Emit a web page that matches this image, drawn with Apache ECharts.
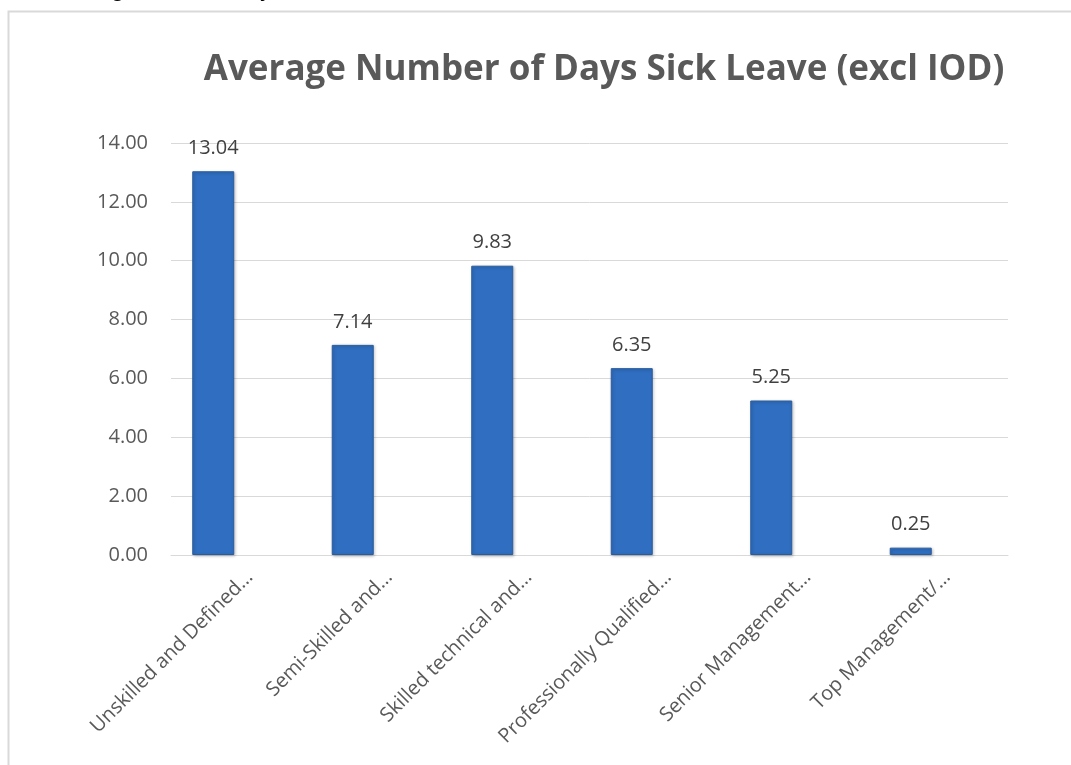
<!DOCTYPE html>
<html>
<head>
<meta charset="utf-8">
<title>Average Number of Days Sick Leave (excl IOD)</title>
<script src="https://cdn.jsdelivr.net/npm/echarts@6/dist/echarts.min.js"></script>
<style>
  html, body { margin: 0; padding: 0; background: #ffffff; }
  #chart { width: 1071px; height: 765px; }
</style>
</head>
<body>
<div id="chart"></div>
<script>
// Occupational levels and their average sick-leave days (excluding injury on duty)
const categories = [
  'Unskilled and Defined…',
  'Semi-Skilled and…',
  'Skilled technical and…',
  'Professionally Qualified…',
  'Senior Management…',
  'Top Management/…'
];
const sickDays = [13.04, 7.14, 9.83, 6.35, 5.25, 0.25];
// Empty companion series: the column slot next to each bar stays blank
const companion = ['-', '-', '-', '-', '-', '-'];
const yTicks = { min: 0, max: 14, step: 2 };

const headingText = 'Average Number of Days Sick Leave (excl IOD)';
const chartTitle = 'Average Number of Days Sick Leave (excl IOD)';

const FONT = '"Open Sans", "Liberation Sans", sans-serif';
const chart = echarts.init(document.getElementById('chart'), null, { renderer: 'canvas' });

// plot rectangle; category labels sit a little right of each band centre
const plot = { left: 171, right: 63, top: 143, bottom: 210 };
const labelShift = 9;

chart.setOption({
  backgroundColor: '#ffffff',
  animation: false,
  title: {
    text: chartTitle,
    left: 599,
    top: 48,
    textAlign: 'center',
    textStyle: { fontFamily: FONT, fontWeight: 'bold', fontSize: 35, color: '#595959' }
  },
  graphic: [
    {
      // chart frame
      type: 'rect',
      shape: { x: 8.5, y: 11.5, width: 1070, height: 800 },
      style: { fill: null, stroke: '#D9D9D9', lineWidth: 2 },
      silent: true
    },
    {
      // document heading running above the frame
      type: 'text',
      x: 62,
      y: -8,
      style: {
        text: headingText,
        font: 'bold 17.5px ' + FONT,
        fill: '#000000',
        verticalAlign: 'middle'
      },
      silent: true
    }
  ],
  grid: [
    { left: plot.left, right: plot.right, top: plot.top, bottom: plot.bottom, containLabel: false },
    { left: plot.left + labelShift, right: plot.right - labelShift, top: plot.top, bottom: plot.bottom, containLabel: false }
  ],
  xAxis: [
    {
      type: 'category',
      gridIndex: 0,
      data: categories,
      axisLine: { show: true, lineStyle: { color: '#D9D9D9', width: 1 } },
      axisTick: { show: false },
      axisLabel: { show: false }
    },
    {
      type: 'category',
      gridIndex: 1,
      data: categories,
      axisLine: { show: false },
      axisTick: { show: false },
      axisLabel: {
        interval: 0,
        rotate: 45,
        margin: 19,
        fontFamily: FONT,
        fontSize: 20,
        color: '#595959'
      }
    }
  ],
  yAxis: [
    {
      type: 'value',
      gridIndex: 0,
      min: yTicks.min,
      max: yTicks.max,
      interval: yTicks.step,
      axisLine: { show: false },
      axisTick: { show: false },
      splitLine: { lineStyle: { color: '#D9D9D9', width: 1 } },
      axisLabel: {
        margin: 23,
        fontFamily: FONT,
        fontSize: 20,
        color: '#595959',
        formatter: v => v.toFixed(2)
      }
    },
    {
      type: 'value',
      gridIndex: 1,
      min: yTicks.min,
      max: yTicks.max,
      show: false
    }
  ],
  series: [
    {
      type: 'bar',
      xAxisIndex: 0,
      yAxisIndex: 0,
      data: sickDays,
      barWidth: 42,
      barGap: '31%',
      itemStyle: {
        color: '#2F6EC0',
        borderColor: '#2A5C9C',
        borderWidth: 1,
        shadowColor: 'rgba(0,0,0,0.25)',
        shadowBlur: 3,
        shadowOffsetX: 1,
        shadowOffsetY: 1
      },
      label: {
        show: true,
        position: 'top',
        distance: 13,
        fontFamily: FONT,
        fontSize: 20,
        color: '#404040',
        formatter: p => p.value.toFixed(2)
      }
    },
    {
      type: 'bar',
      xAxisIndex: 0,
      yAxisIndex: 0,
      data: companion,
      barWidth: 42,
      silent: true
    }
  ]
});
</script>
</body>
</html>
